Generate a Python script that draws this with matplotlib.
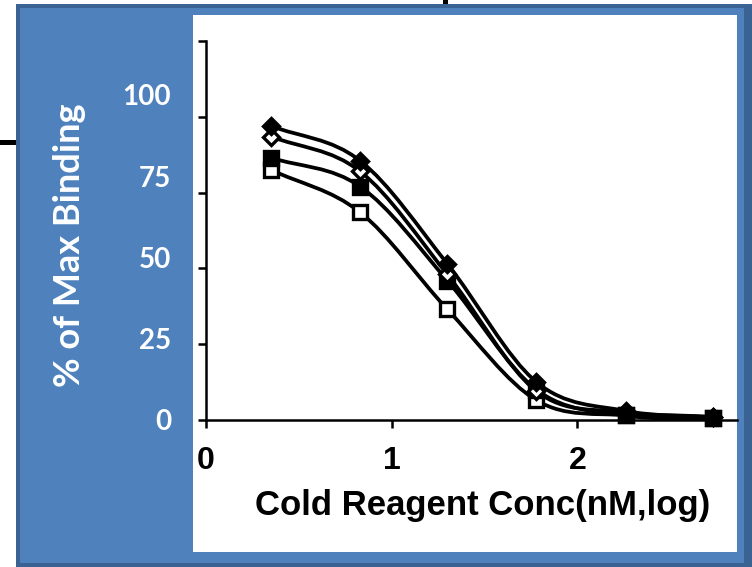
import numpy as np
import matplotlib
matplotlib.use("Agg")
import matplotlib.pyplot as plt
from matplotlib.path import Path
from matplotlib.patches import PathPatch, Rectangle

# ---------------- data ----------------
log_conc = [0.35, 0.83, 1.30, 1.78, 2.26, 2.73]
filled_diamond = [97.0, 85.5, 51.5, 12.5, 3.0, 1.0]
open_diamond = [93.5, 82.0, 48.0, 9.5, 2.5, 1.0]
filled_square = [86.5, 77.0, 46.0, 10.0, 1.5, 0.5]
open_square = [82.5, 68.5, 36.5, 6.5, 1.5, 0.5]

y_ticks = [0, 25, 50, 75, 100, 125]
y_tick_labels = ["0", "25", "50", "75", "100", ""]
x_ticks = [0, 1, 2]
x_tick_labels = ["0", "1", "2"]
y_label = "% of Max Binding"
x_label = "Cold Reagent Conc(nM,log)"

# ---------------- helpers ----------------
W, H = 752, 567
BLUE = "#4F81BD"
DARK_BLUE = "#3A6393"


def frac_rect(x0, y0, x1, y1):
    """pixel box (top-left origin) -> figure-fraction rectangle args"""
    return (x0 / W, 1 - y1 / H), (x1 - x0) / W, (y1 - y0) / H


def smooth_path(x, y):
    x = np.asarray(x, float)
    y = np.asarray(y, float)
    n = len(x)
    h = np.diff(x)
    d = np.diff(y) / h
    m = np.zeros(n)
    m[0], m[-1] = d[0], d[-1]
    for i in range(1, n - 1):
        if d[i - 1] * d[i] <= 0:
            m[i] = 0
        else:
            m[i] = (y[i + 1] - y[i - 1]) / (x[i + 1] - x[i - 1])
    verts = [(x[0], y[0])]
    codes = [Path.MOVETO]
    for i in range(n - 1):
        verts += [(x[i] + h[i] / 3, y[i] + m[i] * h[i] / 3),
                  (x[i + 1] - h[i] / 3, y[i + 1] - m[i + 1] * h[i] / 3),
                  (x[i + 1], y[i + 1])]
        codes += [Path.CURVE4] * 3
    return Path(verts, codes)


# ---------------- figure ----------------
fig = plt.figure(figsize=(7.52, 5.67), dpi=100, facecolor="white")


def box(x0, y0, x1, y1, color):
    fig.add_artist(Rectangle(*frac_rect(x0, y0, x1, y1), transform=fig.transFigure,
                             facecolor=color, edgecolor="none", zorder=-10))


box(16, 4, 752, 567, DARK_BLUE)
box(20, 8, 744, 563, BLUE)
box(193, 15, 737, 552, "white")
box(0, 140, 16, 145, "black")      # cropping artefacts
box(443, 0, 448, 4, "black")

ax_left, ax_right, ax_top, ax_bottom = 206, 737, 41, 420
ax = fig.add_axes([ax_left / W, 1 - ax_bottom / H,
                   (ax_right - ax_left) / W, (ax_bottom - ax_top) / H])
ax.patch.set_alpha(0)
ax.set_xlim(0, 2.86)
ax.set_ylim(0, 125)
for s in ["top", "right"]:
    ax.spines[s].set_visible(False)
for s in ["left", "bottom"]:
    ax.spines[s].set_linewidth(1.8)
ax.set_yticks(y_ticks)
ax.set_yticklabels([])
ax.set_xticks(x_ticks)
ax.set_xticklabels(x_tick_labels, fontfamily="Liberation Sans",
                   fontweight="bold", fontsize=23)
ax.tick_params(direction="out", length=6, width=1.8, pad=13)

# y tick labels live on the blue band
ax2 = fig.add_axes(ax.get_position(), frameon=False, zorder=1)
ax2.patch.set_alpha(0)
ax2.set_xticks([])
ax2.set_ylim(0, 125 / 1.072)
ax2.set_yticks(y_ticks[:-1])
ax2.set_yticklabels(y_tick_labels[:-1], fontfamily="Lato",
                    fontweight="bold", fontsize=20, color="white")
ax2.tick_params(axis="y", length=0, pad=25)

series = [
    (open_square, "s", "white"),
    (filled_square, "s", "black"),
    (open_diamond, "D", "white"),
    (filled_diamond, "D", "black"),
]
for vals, mk, fc in series:
    patch = PathPatch(smooth_path(log_conc, vals), facecolor="none",
                      edgecolor="black", lw=2.7, transform=ax.transData,
                      clip_on=False, zorder=2)
    ax.add_patch(patch)
for vals, mk, fc in series:
    ax.plot(log_conc, vals, ls="none", marker=mk,
            ms=8.5 if mk == "D" else 9.5, mfc=fc, mec="black", mew=2.4,
            clip_on=False, zorder=3)

fig.text(70 / W, 1 - 245 / H, y_label, rotation=90, ha="center", va="center",
         color="white", fontfamily="Lato", fontweight="bold", fontsize=26)
fig.text(483 / W, 1 - 505 / H, x_label, ha="center", va="center",
         color="black", fontfamily="Liberation Sans", fontweight="bold",
         fontsize=25)

fig.savefig("out.png", dpi=100)
